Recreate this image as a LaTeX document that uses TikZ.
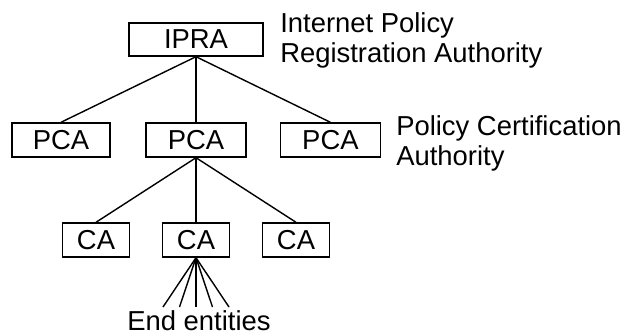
\documentclass[tikz,border=0pt]{standalone}
\usepackage{fontspec}
\setmainfont{Liberation Sans}
\usetikzlibrary{positioning}

\begin{document}
\begin{tikzpicture}[font=\fontsize{19.5}{21.3}\selectfont]
\tikzset{
    %Define style for boxes
    boks/.style={
           rectangle,
           draw=black, line width=1pt,
           inner sep=0pt,
           minimum height=0.85cm,
           },
    % Define line style
    linje/.style={
           line width=1pt,},
    % Define style for the side texts
    tekst/.style={
           align=left,
           inner sep=0pt,
           anchor=north west},
}
	\useasboundingbox (-4.9,0.9875) rectangle (10.875,-7.3625);
 %nodes

	\node[boks,minimum width=3.35cm,minimum height=0.825cm] (ipra) at (0,0) {IPRA};

	\node[boks,minimum width=2.45cm,shift={(-3.375cm,-2.5125cm)}] (pca1) at (ipra) {PCA};
	\node[boks,minimum width=2.5cm,shift={(0cm,-2.5125cm)}] (pca2) at (ipra) {PCA};
	\node[boks,minimum width=2.5cm,shift={(3.36cm,-2.5125cm)}] (pca3) at (ipra) {PCA};

	\node[boks,minimum width=1.675cm,shift={(-2.5cm,-5.0125cm)}] (ca1) at (ipra) {CA};
	\node[boks,minimum width=1.675cm,shift={(0cm,-5.0125cm)}] (ca2) at (ipra) {CA};
	\node[boks,minimum width=1.675cm,shift={(2.5cm,-5.0125cm)}] (ca3) at (ipra) {CA};

	\node[tekst,shift={(2.1cm,0.675cm)}] (iprainfo) at (ipra) {Internet Policy\\Registration Authority};
	\node[tekst,shift={(5.0cm,-1.8875cm)}] (pcainfo) at (ipra) {Policy Certification\\Authority};

	\node[inner sep=0pt,anchor=base,shift={(0.075cm,-7.2625cm)}] (ende) at (ipra) {End entities};

 %free ends of the fan
	\coordinate[shift={(-0.825cm,-6.6875cm)}] (ee1) at (ipra);
	\coordinate[shift={(-0.4125cm,-6.6875cm)}] (ee2) at (ipra);
	\coordinate[shift={(0cm,-6.6875cm)}] (ee3) at (ipra);
	\coordinate[shift={(0.4125cm,-6.6875cm)}] (ee4) at (ipra);
	\coordinate[shift={(0.825cm,-6.6875cm)}] (ee5) at (ipra);

	\path (ipra.south) edge[linje] (pca1.north);
	\path (ipra.south) edge[linje] (pca2.north);
	\path (ipra.south) edge[linje] (pca3.north);
	\path (pca2.south) edge[linje] (ca1.north);
	\path (pca2.south) edge[linje] (ca2.north);
	\path (pca2.south) edge[linje] (ca3.north);
	\path (ca2.south) edge[linje] (ee1);
	\path (ca2.south) edge[linje] (ee2);
	\path (ca2.south) edge[linje] (ee3);
	\path (ca2.south) edge[linje] (ee4);
	\path (ca2.south) edge[linje] (ee5);

\end{tikzpicture}
\end{document}
